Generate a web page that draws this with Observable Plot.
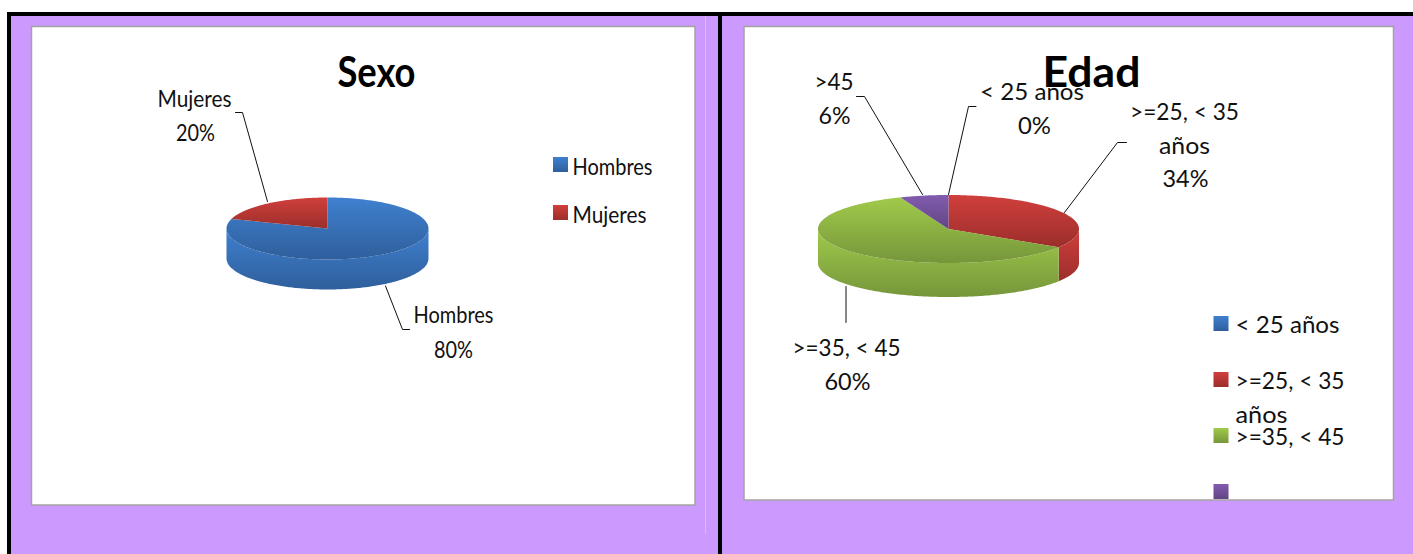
<!DOCTYPE html>
<html lang="es">
<head>
<meta charset="utf-8">
<script src="https://cdn.jsdelivr.net/npm/d3@7"></script>
<script src="https://cdn.jsdelivr.net/npm/@observablehq/plot@0.6"></script>
<style>
  html, body { margin: 0; padding: 0; background: #fff; }
  svg { display: block; }
</style>
</head>
<body>
<script>
// Categories and shares of each survey question
const sexoCategorias = ["Hombres", "Mujeres"];
const sexoValores = [0.80, 0.20];
const edadCategorias = ["< 25 años", ">=25, < 35 años", ">=35, < 45", ">45"];
const edadValores = [0.00, 0.34, 0.60, 0.06];

// Vertical shading of each series: light end, dark end
const tonos = {
  azul: ["#3f80cf", "#2f5f9c"],
  rojo: ["#d03f3c", "#9c2e2b"],
  verde: ["#a0ca4b", "#76963a"],
  morado: ["#825cae", "#614584"]
};
const sexoTonos = ["azul", "rojo"];
const edadTonos = ["azul", "rojo", "verde", "morado"];

const lila = "#cc99ff";
const fuente = "Lato, 'Open Sans', sans-serif";
const pct = d3.format(".0%");

// Elliptical disc: returns side-wall and top-face polygons for one series
function disco(valores, nombresTono, cx, cy, rx, ry, alto) {
  const punto = (a, dy = 0) => ({x: cx + rx * Math.sin(a), y: cy - ry * Math.cos(a) + dy});
  const arco = (a0, a1, dy = 0) => {
    const n = Math.max(2, Math.ceil((a1 - a0) * 60));
    return d3.range(n + 1).map((i) => punto(a0 + ((a1 - a0) * i) / n, dy));
  };
  const arcos = d3.pie().sort(null)(valores);
  const lados = [];
  const caras = [];
  arcos.forEach((s, i) => {
    if (s.value === 0) return;
    const tono = `url(#g-${nombresTono[i]})`;
    caras.push({tono, puntos: [{x: cx, y: cy}, ...arco(s.startAngle, s.endAngle)]});
    // Only the part of the rim facing the viewer has a visible wall
    const a0 = Math.max(s.startAngle, Math.PI / 2);
    const a1 = Math.min(s.endAngle, (3 * Math.PI) / 2);
    if (a1 > a0) lados.push({tono, puntos: [...arco(a0, a1), ...arco(a0, a1, alto).reverse()]});
  });
  return [...lados, ...caras].map((p) =>
    Plot.line(p.puntos, {x: "x", y: "y", fill: p.tono, stroke: null, curve: "linear"})
  );
}

// Linear gradient definitions shared by the slices and legend keys
const degradados = () => {
  const defs = d3.create("svg:defs");
  Object.entries(tonos).forEach(([nombre, [claro, oscuro]]) => {
    const g = defs.append("linearGradient")
      .attr("id", `g-${nombre}`)
      .attr("x1", 0).attr("y1", 0).attr("x2", 0).attr("y2", 1);
    g.append("stop").attr("offset", "0%").attr("stop-color", claro);
    g.append("stop").attr("offset", "100%").attr("stop-color", oscuro);
  });
  return defs.node();
};

// Text whose rows carry a run width (w): glyphs are condensed to fit it
const texto = (filas, opciones = {}) =>
  Plot.text(filas, {
    x: "x", y: "y", text: "t",
    fontFamily: fuente, fontSize: 23, fill: "#111", lineAnchor: "middle",
    ...opciones,
    render(index, scales, values, dimensions, context, next) {
      const g = next(index, scales, values, dimensions, context);
      d3.select(g).selectAll("text").each(function (_, j) {
        this.setAttribute("textLength", filas[index[j]].w);
        this.setAttribute("lengthAdjust", "spacingAndGlyphs");
      });
      return g;
    }
  });

const guia = (puntos) =>
  Plot.line(puntos, {x: (d) => d[0], y: (d) => d[1], stroke: "#111", strokeWidth: 1, curve: "linear"});

const clave = (x, y, tono) =>
  Plot.rect([0], {x1: x, x2: x + 15, y1: y, y2: y + 15, fill: `url(#g-${tono})`});

const grafico = Plot.plot({
  width: 1413,
  height: 554,
  margin: 0,
  x: {domain: [0, 1413], range: [0, 1413], axis: null},
  y: {domain: [0, 554], range: [0, 554], axis: null},
  style: {background: "#fff"},
  marks: [
    degradados,
    // Slide background, black frame and faint seam lines
    Plot.rect([0], {x1: 7, x2: 1413, y1: 12, y2: 554, fill: lila}),
    Plot.rect([0], {x1: 7, x2: 1413, y1: 12, y2: 16, fill: "#000"}),
    Plot.rect([0], {x1: 7, x2: 11, y1: 12, y2: 554, fill: "#000"}),
    Plot.rect([0], {x1: 718, x2: 722, y1: 12, y2: 554, fill: "#000"}),
    Plot.ruleX([705], {y1: 16, y2: 534, stroke: "#d9b8fb", strokeWidth: 1}),
    // Chart areas
    Plot.rect([0], {x1: 31.5, x2: 695, y1: 26.5, y2: 505, fill: "#fff", stroke: "#a3a3a3", strokeWidth: 1.5}),
    Plot.rect([0], {x1: 744, x2: 1393.5, y1: 26.5, y2: 500, fill: "#fff", stroke: "#a3a3a3", strokeWidth: 1.5}),

    // Sexo
    ...disco(sexoValores, sexoTonos, 327, 228, 101, 31, 30),
    guia([[235, 112], [242, 112], [267, 201]]),
    guia([[385, 285.5], [402, 329], [409, 329]]),
    texto([
      {x: 194, y: 99, w: 74, t: sexoCategorias[1]},
      {x: 195, y: 133, w: 39, t: pct(sexoValores[1])},
      {x: 453, y: 315, w: 80, t: sexoCategorias[0]},
      {x: 453, y: 350, w: 39, t: pct(sexoValores[0])}
    ]),
    clave(553, 157, sexoTonos[0]),
    clave(553, 205, sexoTonos[1]),
    texto([
      {x: 572, y: 167, w: 80, t: sexoCategorias[0]},
      {x: 572, y: 215, w: 74, t: sexoCategorias[1]}
    ], {textAnchor: "start"}),
    texto([{x: 376, y: 73, w: 78, t: "Sexo"}], {fontSize: 42, fontWeight: "bold", fill: "#000"}),

    // Edad
    ...disco(edadValores, edadTonos, 948, 228.5, 130.5, 34, 34),
    guia([[856, 96], [864, 96], [922, 194]]),
    guia([[975.5, 106], [968, 106], [948, 194]]),
    guia([[1126, 142], [1117, 142], [1064, 212]]),
    guia([[845.5, 286], [845.5, 322]]),
    texto([
      {x: 833.5, y: 82, w: 39, t: edadCategorias[3]},
      {x: 834, y: 116, w: 32, t: pct(edadValores[3])},
      {x: 1031.5, y: 92, w: 104, t: edadCategorias[0]},
      {x: 1034, y: 126, w: 33, t: pct(edadValores[0])},
      {x: 1184, y: 112, w: 109, t: ">=25, < 35"},
      {x: 1184, y: 146, w: 51, t: "años"},
      {x: 1185, y: 179, w: 46, t: pct(edadValores[1])},
      {x: 846, y: 348, w: 108, t: edadCategorias[2]},
      {x: 847, y: 382, w: 46, t: pct(edadValores[2])}
    ]),
    clave(1213.5, 316, edadTonos[0]),
    clave(1213.5, 372, edadTonos[1]),
    clave(1213.5, 428, edadTonos[2]),
    clave(1213.5, 484, edadTonos[3]),
    texto([
      {x: 1235, y: 325, w: 104, t: edadCategorias[0]},
      {x: 1235, y: 381, w: 109, t: ">=25, < 35"},
      {x: 1235, y: 415, w: 52, t: "años"},
      {x: 1235, y: 437, w: 109, t: edadCategorias[2]}
    ], {textAnchor: "start"}),
    texto([{x: 1091, y: 73, w: 98, t: "Edad"}], {fontSize: 42, fontWeight: "bold", fill: "#000"})
  ]
});

document.body.appendChild(grafico);
</script>
</body>
</html>
